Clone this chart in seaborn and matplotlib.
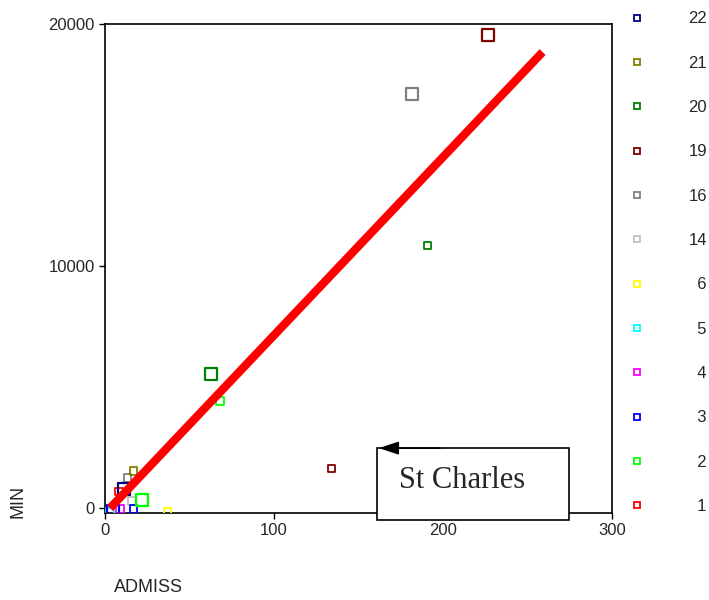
import numpy as np
import pandas as pd
import matplotlib
matplotlib.use("Agg")
import matplotlib.pyplot as plt
from matplotlib.patches import Rectangle
from matplotlib.lines import Line2D
import seaborn as sns

# --- data ---
groups = ["19", "19", "16", "16", "20", "20", "2", "2", "21", "22",
          "1", "14", "3", "3", "4", "5", "6"]
admiss = [226.6, 134, 182, 13.4, 191, 62.5, 68, 21.7, 17, 11.4,
          8.3, 16, 17, 5, 9, 3, 37]
min_vals = [19540, 1625, 17120, 1250, 10850, 5540, 4420, 320, 1530, 785,
            700, 290, -40, -130, -40, -130, -130]
big = [1, 0, 1, 0, 0, 1, 0, 1, 0, 1, 0, 0, 0, 1, 0, 0, 0]

legend_order = ["22", "21", "20", "19", "16", "14", "6", "5", "4", "3", "2", "1"]
colors = ["#000080", "#808000", "#008000", "#800000", "#808080", "#c0c0c0",
          "#ffff00", "#00ffff", "#ff00ff", "#0000ff", "#00ff00", "#ff0000"]
palette = dict(zip(legend_order, colors))

# fit line end points
fit_x = [3, 259]
fit_y = [0, 18840]

df = pd.DataFrame({"ADMISS": admiss, "MIN": min_vals, "group": groups,
                   "big": big})

sns.set_style("ticks")
plt.rcParams["font.family"] = ["Liberation Sans", "DejaVu Sans"]

fig = plt.figure(figsize=(7.09, 6), dpi=100)
ax = fig.add_axes([0.148, 0.145, 0.715, 0.815])

# points: small and large hollow squares
for flag, s in [(0, 28), (1, 75)]:
    sub = df[df["big"] == flag]
    sns.scatterplot(data=sub, x="ADMISS", y="MIN", hue="group",
                    palette=palette, marker="s", s=s, ax=ax,
                    legend=False, zorder=3)
    pts = ax.collections[-1]
    fc = pts.get_facecolors()
    pts.set_edgecolors(fc)
    pts.set_facecolors("none")
    pts.set_linewidths(1.6 if flag else 1.3)

# fit line, drawn over the points
sns.lineplot(x=fit_x, y=fit_y, ax=ax, color="red", linewidth=6,
             solid_capstyle="butt", zorder=5)

ax.set_xlim(0, 300)
ax.set_ylim(-200, 20000)
ax.set_xticks([0, 100, 200, 300])
ax.set_yticks([0, 10000, 20000])
ax.tick_params(labelsize=12, length=4, width=1, color="black")
for sp in ax.spines.values():
    sp.set_color("black")
    sp.set_linewidth(1.2)
ax.set_xlabel("")
ax.set_ylabel("")

fig.text(0.209, 0.02, "ADMISS", fontsize=13, ha="center", va="center")
fig.text(0.026, 0.165, "MIN", fontsize=13, ha="center", va="center",
         rotation=90)

# annotation box with arrow
box = Rectangle((161, -500), 113.6, 2980, facecolor="white",
                edgecolor="black", linewidth=1.2, clip_on=False, zorder=6)
ax.add_patch(box)
ax.annotate("", xy=(160.5, 2480), xytext=(200, 2480),
            arrowprops=dict(arrowstyle="-|>,head_length=1.2,head_width=0.4",
                            color="black", lw=1.2),
            zorder=7, annotation_clip=False)
ax.text(174, 1150, "St Charles", fontsize=22, va="center", ha="left",
        family=["Liberation Serif", "DejaVu Serif"], zorder=8)

# legend on the right (single digits padded with a figure space to right-align)
handles = [Line2D([], [], linestyle="none", marker="s", markersize=5,
                  markerfacecolor="none", markeredgecolor=palette[g],
                  markeredgewidth=1.3) for g in legend_order]
labels = [g if len(g) == 2 else "\u2007" + g for g in legend_order]
leg = fig.legend(handles, labels, loc="upper left",
                 bbox_to_anchor=(0.865, 1.006), frameon=False, fontsize=12,
                 labelspacing=1.76, handletextpad=2.6, handlelength=1.0)

fig.savefig("out.png", dpi=100)
